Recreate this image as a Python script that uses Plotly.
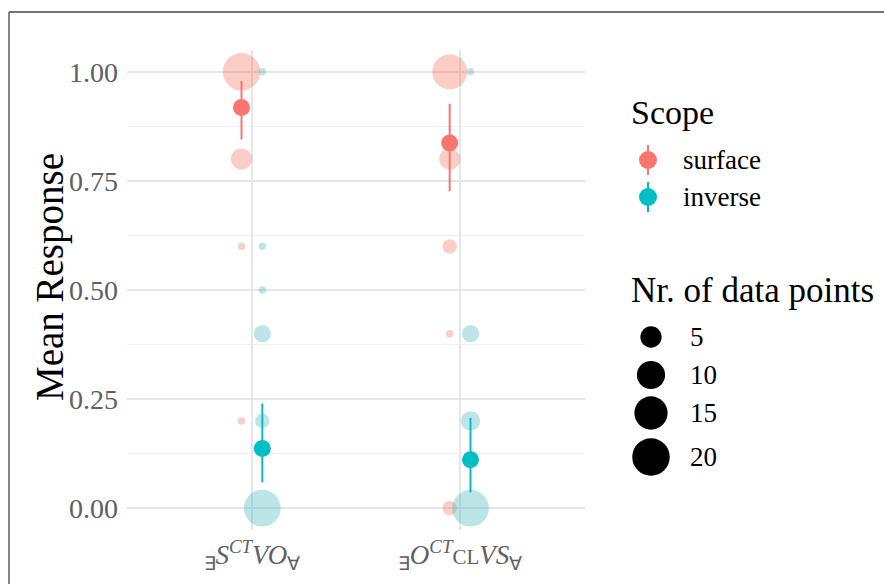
import math
import plotly.graph_objects as go

W, H = 884, 584

# ---------------- data ----------------
cat_labels = [
    "<sub>∃</sub><i>S</i><sup><i>CT</i></sup><i>VO</i><sub>∀</sub>",
    "<sub>∃</sub><i>O</i><sup><i>CT</i></sup><span style='font-size:21px'>CL</span><i>VS</i><sub>∀</sub>",
]
scopes = ["surface", "inverse"]

# individual responses: (category index, value, count)
surface_cat = [1, 1, 1, 1, 2, 2, 2, 2, 2]
surface_val = [1.0, 0.8, 0.6, 0.2, 1.0, 0.8, 0.6, 0.4, 0.0]
surface_n = [20, 5, 1, 1, 17, 5, 2, 1, 2]

inverse_cat = [1, 1, 1, 1, 1, 1, 2, 2, 2, 2]
inverse_val = [1.0, 0.6, 0.5, 0.4, 0.2, 0.0, 1.0, 0.4, 0.2, 0.0]
inverse_n = [1, 1, 1, 3, 2, 19, 1, 3, 4, 19]

# means with interval
surface_mean = [0.918, 0.837]
surface_lo = [0.845, 0.726]
surface_hi = [0.979, 0.927]
inverse_mean = [0.137, 0.111]
inverse_lo = [0.059, 0.036]
inverse_hi = [0.240, 0.207]

size_legend = [5, 10, 15, 20]
y_ticks = [0.0, 0.25, 0.5, 0.75, 1.0]

# ---------------- styling ----------------
COL = {"surface": "#F8766D", "inverse": "#00BFC4"}
FADE = {"surface": "rgba(245,126,108,0.55)", "inverse": "rgba(82,188,193,0.55)"}
DODGE = {"surface": -0.05, "inverse": 0.05}
FONT = "Liberation Serif"
N_MIN, N_MAX = 1, 20


def diam(n):
    return 7.5 + 30.0 * math.sqrt((n - N_MIN) / (N_MAX - N_MIN))


# panel in pixels
PX0, PX1, PY0, PY1 = 127, 585, 50, 530


def px(x):
    return x / W


def py(y):
    return 1 - y / H


fig = go.Figure()

for sc, cats, vals, ns in [("surface", surface_cat, surface_val, surface_n),
                           ("inverse", inverse_cat, inverse_val, inverse_n)]:
    fig.add_trace(go.Scatter(
        x=[c + DODGE[sc] for c in cats], y=vals, mode="markers",
        marker=dict(size=[diam(n) for n in ns], color=FADE[sc], line=dict(width=0)),
        showlegend=False, hoverinfo="skip", cliponaxis=False,
    ))

for sc, m, lo, hi in [("surface", surface_mean, surface_lo, surface_hi),
                      ("inverse", inverse_mean, inverse_lo, inverse_hi)]:
    fig.add_trace(go.Scatter(
        x=[i + 1 + DODGE[sc] for i in range(len(m))], y=m, mode="markers",
        marker=dict(size=17, color=COL[sc], line=dict(width=0)),
        error_y=dict(type="data", symmetric=False,
                     array=[h - v for h, v in zip(hi, m)],
                     arrayminus=[v - l for v, l in zip(m, lo)],
                     color=COL[sc], thickness=2, width=0),
        showlegend=False, hoverinfo="skip", cliponaxis=False,
    ))

# ---------------- hand-built legend on a pixel overlay axis ----------------
leg_scope_y = [160, 197]
for sc, yy in zip(scopes, leg_scope_y):
    fig.add_trace(go.Scatter(
        x=[648], y=[yy], xaxis="x2", yaxis="y2", mode="markers",
        marker=dict(size=18, color=COL[sc], line=dict(width=0)),
        error_y=dict(type="constant", value=15, color=COL[sc], thickness=2, width=0),
        showlegend=False, hoverinfo="skip", cliponaxis=False,
    ))
leg_size_y = [337, 375, 413, 457]
fig.add_trace(go.Scatter(
    x=[651] * len(size_legend), y=leg_size_y, xaxis="x2", yaxis="y2", mode="markers",
    marker=dict(size=[diam(n) for n in size_legend], color="#000000", opacity=1,
                line=dict(width=0)),
    showlegend=False, hoverinfo="skip", cliponaxis=False,
))

ann = []
ann.append(dict(text="Scope", x=px(629), y=py(112), xref="paper", yref="paper",
                xanchor="left", yanchor="middle", showarrow=False,
                font=dict(family=FONT, size=34, color="black")))
for sc, yy in zip(scopes, leg_scope_y):
    ann.append(dict(text=sc, x=px(681), y=py(yy), xref="paper", yref="paper",
                    xanchor="left", yanchor="middle", showarrow=False,
                    font=dict(family=FONT, size=27, color="black")))
ann.append(dict(text="Nr. of data points", x=px(629), y=py(290), xref="paper", yref="paper",
                xanchor="left", yanchor="middle", showarrow=False,
                font=dict(family=FONT, size=35, color="black")))
for s, yy in zip(size_legend, leg_size_y):
    ann.append(dict(text=str(s), x=px(688), y=py(yy), xref="paper", yref="paper",
                    xanchor="left", yanchor="middle", showarrow=False,
                    font=dict(family=FONT, size=27, color="black")))
ann.append(dict(text="Mean Response", x=px(50), y=py(277), xref="paper", yref="paper",
                xanchor="center", yanchor="middle", textangle=-90, showarrow=False,
                font=dict(family=FONT, size=39, color="black")))

shapes = [
    dict(type="line", xref="paper", yref="paper", x0=px(9), x1=px(9), y0=py(12), y1=0,
         line=dict(color="#444444", width=1.3)),
    dict(type="line", xref="paper", yref="paper", x0=px(9), x1=1, y0=py(12), y1=py(12),
         line=dict(color="#444444", width=1.3)),
]

fig.update_layout(
    width=W, height=H,
    margin=dict(l=0, r=0, t=0, b=0),
    paper_bgcolor="white", plot_bgcolor="rgba(0,0,0,0)",
    showlegend=False,
    font=dict(family=FONT),
    xaxis=dict(domain=[PX0 / W, PX1 / W], range=[0.4, 2.6],
               tickvals=[1, 2], ticktext=cat_labels, ticks="", ticklabelstandoff=6,
               tickfont=dict(family=FONT, size=27, color="#606060"),
               showgrid=True, gridcolor="#E6E6E6", gridwidth=1.5,
               zeroline=False, showline=False, fixedrange=True),
    yaxis=dict(domain=[1 - PY1 / H, 1 - PY0 / H], range=[-0.05, 1.05],
               tickvals=y_ticks, tickformat=".2f", ticks="", ticklabelstandoff=8,
               tickfont=dict(family=FONT, size=28, color="#606060"),
               showgrid=True, gridcolor="#E6E6E6", gridwidth=1.5,
               minor=dict(dtick=0.125, tick0=0, showgrid=True, gridcolor="#F0F0F0", gridwidth=1),
               zeroline=False, showline=False, fixedrange=True),
    xaxis2=dict(domain=[0, 1], range=[0, W], visible=False, fixedrange=True),
    yaxis2=dict(domain=[0, 1], range=[H, 0], visible=False, fixedrange=True, anchor="x2"),
    annotations=ann,
    shapes=shapes,
)
fig.write_html("out.html", config={"displayModeBar": False},
               post_script="document.body.style.margin='0px';document.body.style.padding='0px';")
